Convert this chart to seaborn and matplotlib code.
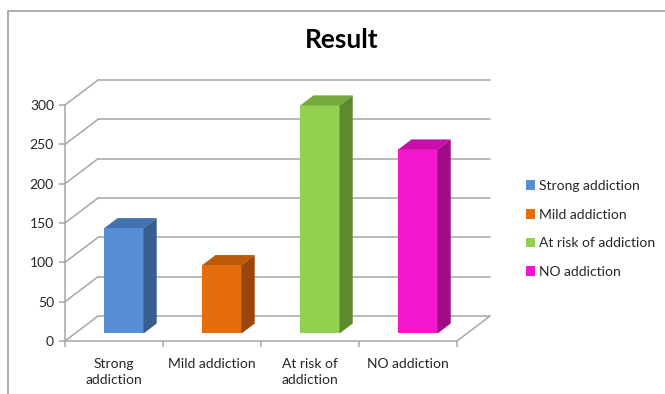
import matplotlib
matplotlib.use('Agg')
import matplotlib.pyplot as plt
import seaborn as sns
import pandas as pd
from matplotlib.patches import Polygon, Rectangle, Patch

categories = ['Strong addiction', 'Mild addiction', 'At risk of addiction', 'NO addiction']
tick_labels = ['Strong\naddiction', 'Mild addiction', 'At risk of\naddiction', 'NO addiction']
values = [134, 87, 290, 234]
yticks = [0, 50, 100, 150, 200, 250, 300]

front_colors = ['#558ed5', '#e46c0a', '#92d050', '#f216cc']
side_colors = ['#375e8f', '#99470a', '#5e8a2e', '#a00b88']
top_colors = ['#4272b0', '#bd5a0a', '#76a83c', '#c80fa8']

sns.set_theme(style='white')
plt.rcParams['font.family'] = ['Lato', 'DejaVu Sans']

df = pd.DataFrame({'cat': categories, 'val': values})

fig = plt.figure(figsize=(6.65, 3.94), dpi=100)
ax = fig.add_axes([65 / 665, 53 / 394, 425 / 665, 261 / 394])

sns.barplot(data=df, x='cat', y='val', hue='cat', palette=front_colors,
            width=0.4, legend=False, saturation=1, ax=ax)

# 3d depth of the floor / walls, in data units
ddx = 0.337
ddy = 31.8
grid_c = '#a6a6a6'
ax.set_xlim(-0.5, -0.5 + 425 / 98)
ax.set_ylim(0, 331.8)

# walls and grid
for v in yticks:
    ax.plot([-0.5, -0.5 + ddx], [v, v + ddy], color=grid_c, lw=1.1, zorder=1, clip_on=False)
    ax.plot([-0.5 + ddx, 3.5 + ddx], [v + ddy, v + ddy], color=grid_c, lw=1.1, zorder=1, clip_on=False)
ax.plot([-0.5, 3.5], [0, 0], color=grid_c, lw=1.1, zorder=1, clip_on=False)
ax.plot([3.5, 3.5 + ddx], [0, ddy], color=grid_c, lw=1.1, zorder=1, clip_on=False)

# bars sit in the middle of the depth
f0, f1 = 0.3, 0.7
for i, p in enumerate(ax.patches[:len(values)]):
    p.set_x(p.get_x() + f0 * ddx)
    p.set_y(f0 * ddy)
    p.set_zorder(3)
    p.set_edgecolor('none')
    x0, y0, w, h = p.get_x(), p.get_y(), p.get_width(), p.get_height()
    bdx, bdy = (f1 - f0) * ddx, (f1 - f0) * ddy
    top = Polygon([(x0, y0 + h), (x0 + w, y0 + h), (x0 + w + bdx, y0 + h + bdy), (x0 + bdx, y0 + h + bdy)],
                  closed=True, facecolor=top_colors[i], edgecolor='none', zorder=3)
    side = Polygon([(x0 + w, y0), (x0 + w + bdx, y0 + bdy), (x0 + w + bdx, y0 + h + bdy), (x0 + w, y0 + h)],
                   closed=True, facecolor=side_colors[i], edgecolor='none', zorder=3)
    ax.add_patch(top)
    ax.add_patch(side)

for s in ['top', 'right', 'bottom']:
    ax.spines[s].set_visible(False)
ax.spines['left'].set_bounds(0, 300)
ax.spines['left'].set_color(grid_c)
ax.spines['left'].set_linewidth(1.1)

ax.set_yticks(yticks)
ax.set_yticklabels([str(v) for v in yticks], fontsize=10, color='#262626')
ax.tick_params(axis='y', length=4, color=grid_c, width=1.1, pad=4, left=True)

ax.set_xticks(range(len(categories)))
ax.set_xticklabels(tick_labels, fontsize=10, color='#262626', linespacing=1.4)
ax.set_xticks([-0.5, 0.5, 1.5, 2.5, 3.5], minor=True)
ax.tick_params(axis='x', which='major', length=0, pad=12)
ax.tick_params(axis='x', which='minor', length=4, color=grid_c, width=1.1, bottom=True)
ax.set_xlabel('')
ax.set_ylabel('')
ax.grid(False)

fig.text(342 / 665, 1 - 40 / 394, 'Result', ha='center', va='center',
         fontsize=19, fontweight='bold', color='black')

handles = [Patch(facecolor=c, edgecolor='none') for c in front_colors]
fig.legend(handles, categories, loc='center left', bbox_to_anchor=(520 / 665, 1 - 229 / 394),
           frameon=False, fontsize=10, labelspacing=1.2, handlelength=0.7, handleheight=0.7,
           handletextpad=0.3, borderaxespad=0)

# outer chart border (partly cropped in the original)
fig.patches.append(Rectangle((8 / 665, -0.1), 1.2, 1 - 11 / 394 + 0.1, transform=fig.transFigure,
                             fill=False, edgecolor='#a0a0a0', lw=1.2))

fig.savefig('out.png', dpi=100)
